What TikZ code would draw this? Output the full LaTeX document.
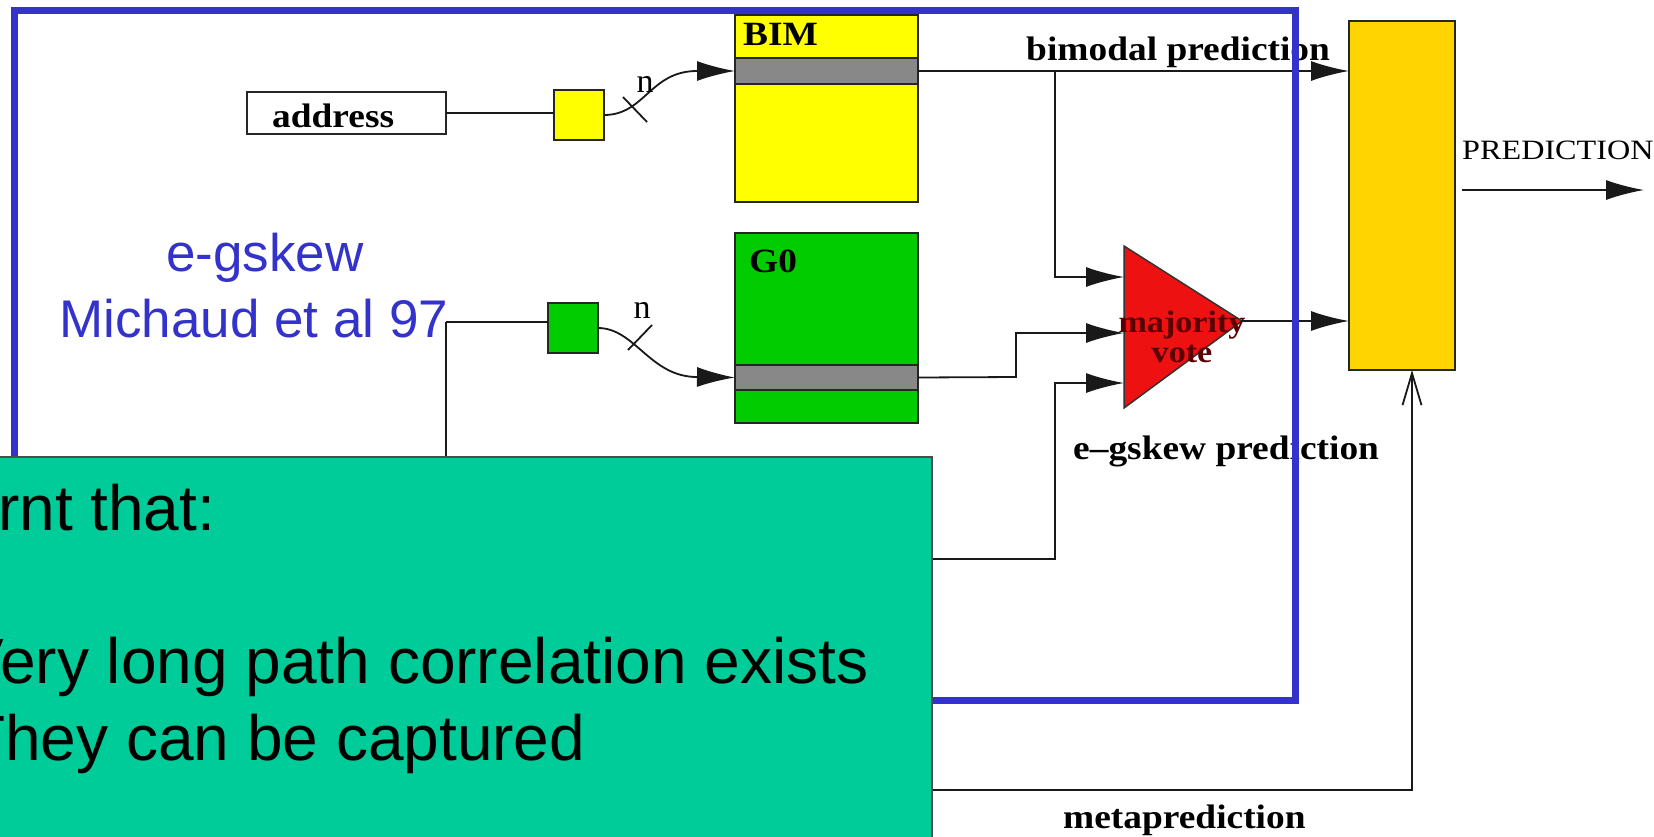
\documentclass[tikz,border=0pt]{standalone}
\usepackage{fontspec}
\usepackage{graphicx}
\setmainfont{Liberation Serif}
\newfontfamily\arialf{Liberation Sans}
\usetikzlibrary{arrows.meta}
\definecolor{bluef}{HTML}{3333CC}
\definecolor{yel}{HTML}{FFFF00}
\definecolor{grn}{HTML}{00CC00}
\definecolor{gry}{HTML}{888888}
\definecolor{goldb}{HTML}{FFD400}
\definecolor{tealb}{HTML}{00CC99}
\definecolor{redv}{HTML}{EE1111}
\definecolor{darkred}{HTML}{5A0000}
\newcommand{\wid}[1]{\scalebox{1.1}[1]{#1}}
\tikzset{
  box/.style={draw=black!85, line width=2pt, inner sep=0pt, outer sep=0pt, anchor=north west},
  conn/.style={draw=black!90, line width=1.8pt},
  arr/.style={conn, -{Latex[length=38pt,width=20pt]}},
  lbl/.style={font=\fontsize{34}{34}\selectfont\bfseries, inner sep=0pt, anchor=base west},
  nlbl/.style={font=\fontsize{34}{34}\selectfont, inner sep=0pt},
}
\begin{document}
\begin{tikzpicture}[x=1pt,y=-1pt]
\clip (0,0) rectangle (1654,836);
\fill[white] (0,0) rectangle (1654,836);

% tables
\node[box, fill=yel, minimum width=183pt, minimum height=187pt] (bim) at (735,15) {};
\node[box, fill=gry, minimum width=183pt, minimum height=26pt] (bimrow) at (735,58) {};
\node[lbl] (bimt) at (743,45) {\wid{BIM}};
\node[box, fill=grn, minimum width=183pt, minimum height=190pt] (g0) at (735,233) {};
\node[box, fill=gry, minimum width=183pt, minimum height=25pt] (g0row) at (735,365) {};
\node[lbl] (g0t) at (749,272) {\wid{G0}};

% address and hash boxes
\node[box, fill=white, minimum width=199pt, minimum height=42pt] (addr) at (247,92) {};
\node[lbl] (addrt) at (272,127) {\wid{address}};
\node[box, fill=yel, minimum width=50pt, minimum height=50pt] (sq1) at (554,90) {};
\node[box, fill=grn, minimum width=50pt, minimum height=50pt] (sq2) at (548,303) {};

% meta predictor
\node[box, fill=goldb, minimum width=106pt, minimum height=349pt] (meta) at (1349,21) {};

% majority vote
\coordinate (ta) at (1124,246);
\coordinate (tb) at (1124,408);
\coordinate (tip) at (1242,321);
\draw[fill=redv, draw=black!80, line width=1.5pt] (ta) -- (tip) -- (tb) -- cycle;
\node[font=\fontsize{31}{30}\selectfont\bfseries, text=darkred, align=center, inner sep=0pt] (mv) at (1182,337) {\wid{majority}\\\wid{vote}};

% connectors
\draw[conn] (addr.east) -- (addr.east -| sq1.west);
\draw[arr] (sq1.east) .. controls (645,115) and (650,71) .. (697,71) -- (bimrow.west);
\draw[conn] (623,97) -- (647,122);
\node[nlbl] (n1) at (645,84) {n};

\coordinate (jM) at (446,322);
\draw[conn] (jM) -- (jM -| sq2.west);
\draw[arr] (sq2.east) .. controls (635,328) and (650,377) .. (697,377) -- (g0row.west);
\draw[conn] (628,350) -- (652,325);
\node[nlbl] (n2) at (642,310) {n};

\coordinate (in1) at (1124,277);
\coordinate (in2) at (1124,333);
\coordinate (in3) at (1124,383);
\coordinate (bj) at (1055,71);
\coordinate (gj) at (1016,377);
\coordinate (hb) at (446,559);
\coordinate (hc) at (1055,559);

\draw[arr] (bimrow.east) -- (bimrow.east -| meta.west);
\draw[arr] (bj) |- (in1);
\draw[arr] (g0row.east) -- (gj) |- (in2);
\draw[arr] (jM) -- (hb) -- (hc) |- (in3);
\draw[arr] (tip) -- (tip -| meta.west);

\coordinate (out0) at (1462,190);
\coordinate (out1) at (1644,190);
\draw[arr] (out0) -- (out1);
\node[font=\fontsize{28}{28}\selectfont, inner sep=0pt, anchor=base west] (predt) at (1462,159) {\scalebox{1.15}[1]{PREDICTION}};

\coordinate (mp0) at (900,790);
\coordinate (mp1) at (1412,790);
\coordinate (mp2) at (1412,370);
\draw[conn, -{Straight Barb[length=32pt,width=19pt]}] (mp0) -- (mp1) -- (mp2);

\node[lbl] (bimodt) at (1026,60) {\wid{bimodal prediction}};
\node[lbl] (egt) at (1073,459) {\wid{e--gskew prediction}};
\node[lbl] (metat) at (1063,828) {\wid{metaprediction}};

% blue frame and title
\node[draw=bluef, line width=7pt, anchor=north west, inner sep=0pt, outer sep=0pt, minimum width=1281pt, minimum height=690pt] (frame) at (14,10) {};
\node[text=bluef, font=\arialf\fontsize{53}{64}\selectfont, inner sep=0pt, anchor=base west] (t1) at (166,271) {e-gskew};
\node[text=bluef, font=\arialf\fontsize{53}{64}\selectfont, inner sep=0pt, anchor=base west] (t2) at (59,337) {Michaud et al 97};

% note box
\node[draw=black!70, line width=1.5pt, fill=tealb, anchor=north west, inner sep=0pt, outer sep=0pt, minimum width=960pt, minimum height=420pt] (note) at (-28,457) {};
\node[font=\arialf\fontsize{64}{76}\selectfont, inner sep=0pt, anchor=base west] (l1) at (-2,530) {rnt that:};
\node[font=\arialf\fontsize{64}{76}\selectfont, inner sep=0pt, anchor=base west] (l2) at (-39,683) {Very long path correlation exists};
\node[font=\arialf\fontsize{64}{76}\selectfont, inner sep=0pt, anchor=base west] (l3) at (-34,760) {They can be captured};
\end{tikzpicture}
\end{document}
